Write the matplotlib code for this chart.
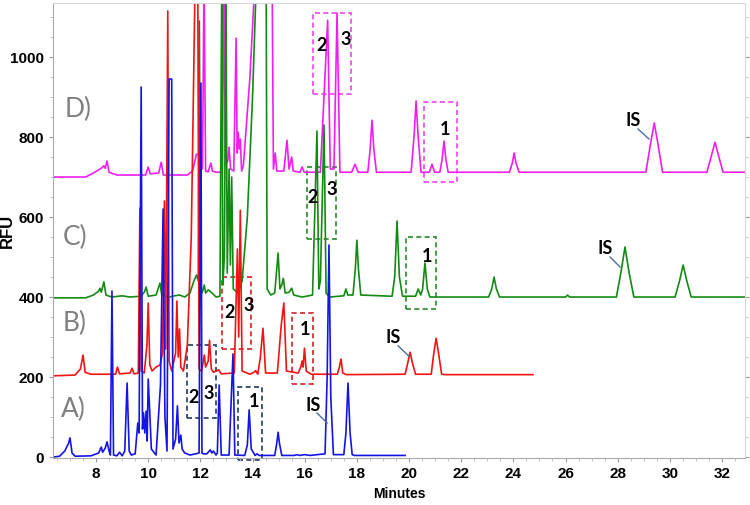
import numpy as np
import matplotlib.pyplot as plt
from matplotlib.patches import Rectangle

# trace A (blue), baseline 0
a_t = [6.35, 6.6, 6.8, 6.95, 7.0, 7.08, 7.2, 7.8, 8.1, 8.2, 8.25, 8.35, 8.42, 8.5, 8.55,
       8.61, 8.67, 8.8, 8.9, 9.0, 9.1, 9.19, 9.27, 9.35, 9.5, 9.6, 9.65, 9.73, 9.78, 9.82,
       9.87, 9.92, 9.96, 10.0, 10.05, 10.12, 10.3, 10.47, 10.57, 10.64, 10.72, 10.8, 10.9,
       10.95, 11.05, 11.12, 11.18, 11.25, 11.3, 11.4, 11.6, 11.95, 12.02, 12.06, 12.12, 12.25,
       12.38, 12.44, 12.5, 12.6, 12.65, 12.72, 12.8, 13.1, 13.25, 13.32, 13.7, 13.8, 13.87,
       13.95, 14.1, 14.17, 14.25, 14.85, 14.93, 14.98, 15.03, 15.12, 15.6, 15.7, 15.8, 16.0,
       16.2, 16.78, 16.86, 16.93, 17.0, 17.1, 17.5, 17.58, 17.66, 17.74, 17.82, 17.9, 19.85]
a_v = [0, 2, 15, 35, 48, 10, 2, 3, 10, 25, 12, 22, 38, 15, 5,
       415, 5, 3, 12, 3, 15, 185, 15, 5, 8, 85, 60, 925, 70, 110,
       60, 115, 40, 195, 125, 20, 5, 180, 620, 100, 15, 945, 945,
       20, 45, 128, 35, 55, 20, 10, 5, 10, 935, 10, 8, 8,
       18, 10, 15, 5, 10, 180, 5, 5, 258, 5, 4, 30, 118,
       20, 4, 8, 4, 4, 35, 62, 35, 4, 4, 6, 4, 6,
       4, 8, 200, 530, 150, 6, 6, 60, 185, 60, 6, 4, 4]

# trace B (red), baseline ~205
b_t = [6.35, 7.2, 7.4, 7.5, 7.58, 7.8, 8.75, 8.82, 8.9, 9.3, 9.38, 9.45, 9.62, 9.68, 9.73,
       9.85, 9.95, 10.0, 10.06, 10.15, 10.3, 10.45, 10.55, 10.62, 10.67, 10.75, 10.8, 10.9,
       11.05, 11.1, 11.15, 11.2, 11.25, 11.35, 11.5, 11.65, 11.8, 11.9, 11.95, 12.05, 12.15,
       12.2, 12.3, 12.35, 12.42, 12.5, 12.7, 12.8, 13.3, 13.42, 13.47, 13.53, 13.6, 13.9,
       14.05, 14.12, 14.2, 14.3, 14.4, 14.5, 14.95, 15.1, 15.2, 15.3, 15.75, 15.85,
       15.9, 15.94, 15.99, 16.06, 16.25, 17.25, 17.33, 17.39, 17.46, 17.6, 19.85, 19.95,
       20.04, 20.13, 20.25, 20.85, 20.95, 21.04, 21.13, 21.25, 21.4, 24.75]
b_v = [203, 205, 220, 255, 212, 207, 207, 225, 208, 210, 222, 208, 210, 622, 215,
       210, 280, 385, 230, 215, 225, 230, 260, 640, 270, 1115, 240, 215,
       260, 390, 250, 320, 225, 215, 280, 550, 1200, 1200, 220, 215, 255,
       225, 240, 292, 220, 212, 218, 208, 210, 520, 300, 617, 215, 207,
       212, 216, 207, 250, 322, 210, 210, 330, 385, 215, 210, 225,
       240, 225, 272, 215, 207, 207, 225, 245, 210, 206, 207, 235,
       262, 235, 207, 207, 260, 297, 260, 207, 206, 206]

# trace C (green), baseline ~400
c_t = [6.35, 7.6, 7.9, 8.1, 8.15, 8.2, 8.3, 8.38, 8.6, 9.0, 9.3, 9.7, 9.85, 9.92, 10.0,
       10.3, 10.45, 10.52, 10.8, 11.0, 11.2, 11.4, 11.6, 11.75, 11.85, 11.92, 11.96, 12.01,
       12.06, 12.15, 12.2, 12.3, 12.45, 12.6, 12.75, 12.82, 12.86, 12.92, 12.98, 13.03,
       13.1, 13.15, 13.2, 13.26, 13.45, 13.6, 13.8, 14.0, 14.15, 14.52, 14.56, 14.7, 14.85,
       14.98, 15.05, 15.12, 15.18, 15.25, 15.4, 15.5, 15.58, 15.9, 16.3, 16.47, 16.54,
       16.6, 16.74, 16.82, 16.95, 17.5, 17.58, 17.65, 17.85, 17.94, 18.0, 18.06, 18.15,
       19.35, 19.45, 19.54, 19.63, 19.75, 20.25, 20.35, 20.45, 20.52, 20.61, 20.7, 20.8,
       23.05, 23.17, 23.26, 23.35, 23.47, 26.0, 26.08, 26.15, 27.95, 28.12, 28.28, 28.44,
       28.62, 30.2, 30.37, 30.51, 30.65, 30.82, 32.88]
c_v = [398, 398, 405, 415, 422, 412, 438, 405, 400, 403, 400, 402, 412, 425, 402,
       405, 435, 405, 400, 403, 405, 400, 410, 440, 455, 440, 1090, 420,
       410, 430, 410, 418, 410, 400, 402, 1200, 430, 500, 1150, 460,
       720, 480, 700, 420, 410, 440, 600, 900, 1200, 1200, 420, 405, 410,
       510, 420, 430, 447, 410, 412, 422, 405, 400, 405, 815, 420,
       440, 830, 410, 400, 403, 420, 405, 405, 470, 542, 470, 405,
       402, 450, 590, 450, 402, 402, 420, 405, 420, 485, 420, 400,
       400, 420, 450, 420, 400, 400, 405, 400, 400, 460, 525, 460,
       400, 400, 440, 480, 440, 400, 400]

# trace D (magenta), baseline ~700-712
d_t = [6.35, 7.6, 7.9, 8.2, 8.3, 8.35, 8.42, 8.5, 8.8, 9.9, 10.0, 10.08, 10.4, 10.5, 10.58,
       11.5, 11.7, 11.85, 11.95, 12.08, 12.14, 12.2, 12.3, 12.4, 12.46, 12.6, 12.84, 12.9,
       12.96, 13.05, 13.1, 13.16, 13.28, 13.37, 13.41, 13.45, 13.49, 13.53, 13.58, 13.65,
       13.9, 14.1, 14.75, 14.8, 14.87, 14.93, 15.2, 15.32, 15.4, 15.5, 15.56, 15.82, 15.9,
       15.98, 16.6, 16.88, 16.98, 17.12, 17.24, 17.35, 17.8, 17.93, 18.05, 18.42, 18.51,
       18.58, 18.65, 18.75, 20.08, 20.19, 20.27, 20.35, 20.46, 20.78, 20.88, 20.98, 21.18,
       21.27, 21.34, 21.41, 21.5, 23.85, 23.96, 24.03, 24.1, 24.22, 29.08, 29.25, 29.4,
       29.55, 29.72, 31.42, 31.58, 31.73, 31.88, 32.04, 32.88]
d_v = [700, 700, 710, 722, 728, 722, 740, 712, 705, 705, 725, 708, 710, 737, 705,
       705, 715, 757, 755, 720, 1200, 715, 713, 735, 715, 712, 712, 1200,
       730, 740, 775, 720, 715, 1047, 760, 812, 770, 795, 715, 730,
       950, 1200, 1200, 720, 760, 715, 715, 792, 720, 750, 715, 712, 725,
       712, 712, 1092, 720, 720, 1110, 712, 712, 732, 712, 712, 770,
       842, 770, 712, 712, 800, 890, 800, 712, 712, 732, 712, 712,
       745, 790, 745, 712, 712, 735, 760, 735, 712, 712, 780, 835,
       780, 712, 712, 750, 787, 750, 712, 712]

fig = plt.figure(figsize=(7.5, 5.05), dpi=100)
ax = fig.add_axes([0.0707, 0.093, 0.9226, 0.901])

ax.plot(d_t, d_v, color='#f01ef0', lw=1.2)
ax.plot(c_t, c_v, color='#138a13', lw=1.2)
ax.plot(b_t, b_v, color='#f01414', lw=1.2)
ax.plot(a_t, a_v, color='#1414e6', lw=1.2)

ax.set_xlim(6.35, 32.88)
ax.set_ylim(-2.5, 1135)

# dashed boxes around the labelled peaks
boxes = [
    (11.49, 12.6, 97, 280, '#1f3a5f'), (13.44, 14.37, -7, 175, '#1f3a5f'),
    (12.83, 13.94, 270, 450, '#d02020'), (15.52, 16.32, 182, 360, '#d02020'),
    (16.09, 17.2, 545, 725, '#2a8a2a'), (19.89, 21.04, 370, 550, '#2a8a2a'),
    (16.32, 17.78, 908, 1110, '#ee44ee'), (20.58, 21.84, 688, 888, '#ee44ee'),
]
for x0, x1, y0, y1, col in boxes:
    ax.add_patch(Rectangle((x0, y0), x1 - x0, y1 - y0, fill=False, ec=col,
                           ls=(0, (3, 2)), lw=1.2, clip_on=False))

nums = [('2', 11.72, 148), ('3', 12.33, 160), ('1', 14.06, 138),
        ('2', 13.1, 362), ('3', 13.87, 378), ('1', 16.01, 318),
        ('2', 16.32, 650), ('3', 17.05, 668), ('1', 20.69, 502),
        ('2', 16.63, 1030), ('3', 17.59, 1045), ('1', 21.38, 818)]
for s, x, y in nums:
    ax.text(x, y, s, fontsize=13, fontweight='bold', family='Lato',
            ha='center', va='center')

# internal standard labels with leader lines
is_marks = [(16.32, 130, 16.47, 110, 16.86, 85),
            (19.39, 298, 19.58, 278, 20.0, 252),
            (27.52, 522, 27.71, 500, 28.09, 475),
            (28.59, 842, 28.78, 820, 29.2, 795)]
for tx, ty, x0, y0, x1, y1 in is_marks:
    ax.text(tx, ty, 'IS', fontsize=13, fontweight='bold', family='Lato',
            ha='center', va='center')
    ax.plot([x0, x1], [y0, y1], color='#4a6fa5', lw=1)

for s, x, y in [('D)', 7.31, 868), ('C)', 7.19, 550), ('B)', 7.19, 335), ('A)', 7.12, 118)]:
    ax.text(x, y, s, fontsize=19, color='#808080', family='Lato',
            ha='center', va='center')

ax.set_xticks(np.arange(8, 33, 2))
ax.set_xticks(np.arange(6.5, 33, 0.5), minor=True)
ax.set_yticks(np.arange(0, 1001, 200))
ax.set_yticks(np.arange(0, 1101, 50), minor=True)
for lab in ax.get_xticklabels() + ax.get_yticklabels():
    lab.set_fontweight('bold')
    lab.set_family('Liberation Sans')
ax.tick_params(labelsize=11, length=3, color='#999999', width=0.8)
ax.tick_params(which='minor', length=2, color='#bbbbbb')
ax.tick_params(axis='y', which='both', right=True)
for sp in ax.spines.values():
    sp.set_color('#d8d8d8')
ax.spines['left'].set_color('#aaaaaa')
ax.spines['bottom'].set_color('#aaaaaa')

ax.set_xlabel('Minutes', fontsize=10, fontweight='bold', family='Liberation Sans', labelpad=4)
ax.set_ylabel('RFU', fontsize=12, fontweight='bold', family='Liberation Sans')
ax.yaxis.set_label_coords(-0.055, 0.5)

fig.savefig('out.png', dpi=100)
